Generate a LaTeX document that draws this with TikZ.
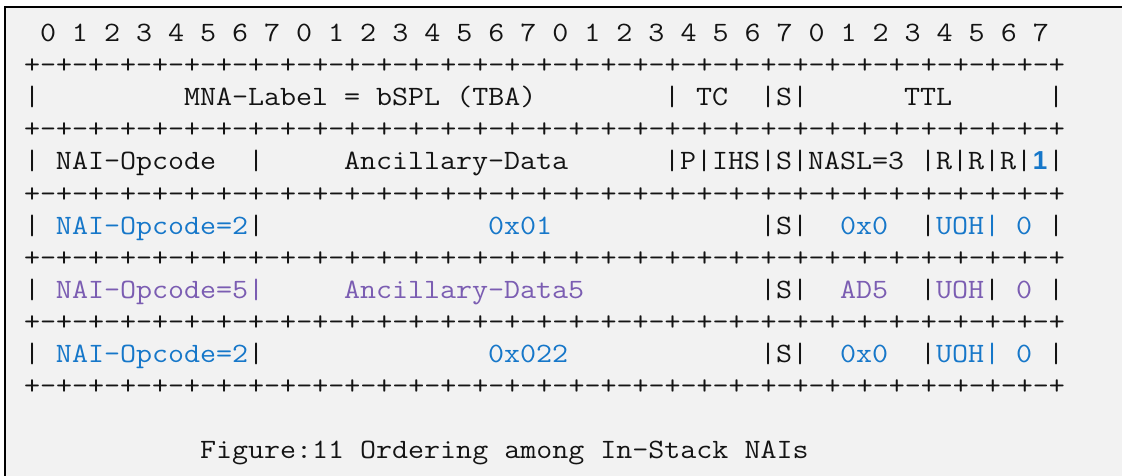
\documentclass[tikz,border=0pt]{standalone}
\usepackage{fontspec}
\usepackage{graphicx}
\newfontfamily\monof{Latin Modern Mono}
\newfontfamily\sansf{Liberation Sans}
\definecolor{bgc}{HTML}{F2F2F2}
\definecolor{ink}{HTML}{141414}
\definecolor{bl}{HTML}{1677C9}
\definecolor{pu}{HTML}{7B5DB2}
\newcommand\sxf{1.1106}
\newcommand\asc[5]{\node[txt,text=#4] (#1) at ({24+16*#2},{41.5+32.1*#3}) {\scalebox{\sxf}[1]{#5}};}
\tikzset{
  txt/.style={font=\monof\fontsize{28}{32}\selectfont,anchor=base west,inner sep=0pt,outer sep=0pt},
  boldone/.style={font=\sansf\bfseries\fontsize{26}{32}\selectfont,anchor=base,inner sep=0pt,outer sep=0pt,text=bl},
}
\begin{document}
\begin{tikzpicture}[x=1pt,y=-1pt]
\useasboundingbox (0,0) rectangle (1122,476);
\fill[bgc] (5,7) rectangle (1122,476);
\draw[black,line width=2pt] (5,476) -- (5,7) -- (1122,7);
% header digits
\asc{digits}{1}{0}{ink}{0 1 2 3 4 5 6 7 0 1 2 3 4 5 6 7 0 1 2 3 4 5 6 7 0 1 2 3 4 5 6 7}
% separator lines
\foreach \l/\n in {1/sepa,3/sepb,5/sepc,7/sepd,9/sepe,11/sepf}{
  \asc{\n}{0}{\l}{ink}{+-+-+-+-+-+-+-+-+-+-+-+-+-+-+-+-+-+-+-+-+-+-+-+-+-+-+-+-+-+-+-+-+}
}
% row 1
\asc{ra0}{0}{2}{ink}{|}
\asc{ra1}{10}{2}{ink}{MNA-Label = bSPL (TBA)}
\asc{ra2}{40}{2}{ink}{|}
\asc{ra3}{42}{2}{ink}{TC}
\asc{ra4}{46}{2}{ink}{|S|}
\asc{ra5}{55}{2}{ink}{TTL}
\asc{ra6}{64}{2}{ink}{|}
% row 2
\asc{rb0}{0}{4}{ink}{|}
\asc{rb1}{2}{4}{ink}{NAI-Opcode}
\asc{rb2}{14}{4}{ink}{|}
\asc{rb3}{20}{4}{ink}{Ancillary-Data}
\asc{rb4}{40}{4}{ink}{|P|IHS|S|NASL=3}
\asc{rb5}{56}{4}{ink}{|R|R|R|}
\node[boldone] (rb6) at ({32+16*63},{41.5+32.1*4}) {1};
\asc{rb7}{64}{4}{ink}{|}
% row 3
\asc{rc0}{0}{6}{ink}{|}
\asc{rc1}{2}{6}{bl}{NAI-Opcode=2}
\asc{rc2}{14}{6}{ink}{|}
\asc{rc3}{29}{6}{bl}{0x01}
\asc{rc4}{46}{6}{ink}{|S|}
\asc{rc5}{51}{6}{bl}{0x0}
\asc{rc6}{56}{6}{ink}{|}
\asc{rc7}{57}{6}{bl}{UOH|}
\asc{rc8}{62}{6}{bl}{0}
\asc{rc9}{64}{6}{ink}{|}
% row 4
\asc{rd0}{0}{8}{ink}{|}
\asc{rd1}{2}{8}{pu}{NAI-Opcode=5|}
\asc{rd3}{20}{8}{pu}{Ancillary-Data5}
\asc{rd4}{46}{8}{ink}{|S|}
\asc{rd5}{51}{8}{pu}{AD5}
\asc{rd6}{56}{8}{ink}{|}
\asc{rd7}{57}{8}{pu}{UOH}
\asc{rd7b}{60}{8}{ink}{|}
\asc{rd8}{62}{8}{pu}{0}
\asc{rd9}{64}{8}{ink}{|}
% row 5
\asc{re0}{0}{10}{ink}{|}
\asc{re1}{2}{10}{bl}{NAI-Opcode=2}
\asc{re2}{14}{10}{ink}{|}
\asc{re3}{29}{10}{bl}{0x022}
\asc{re4}{46}{10}{ink}{|S|}
\asc{re5}{51}{10}{bl}{0x0}
\asc{re6}{56}{10}{ink}{|}
\asc{re7}{57}{10}{bl}{UOH|}
\asc{re8}{62}{10}{bl}{0}
\asc{re9}{64}{10}{ink}{|}
% caption
\asc{caption}{11}{13}{ink}{Figure:11 Ordering among In-Stack NAIs}
\end{tikzpicture}
\end{document}
